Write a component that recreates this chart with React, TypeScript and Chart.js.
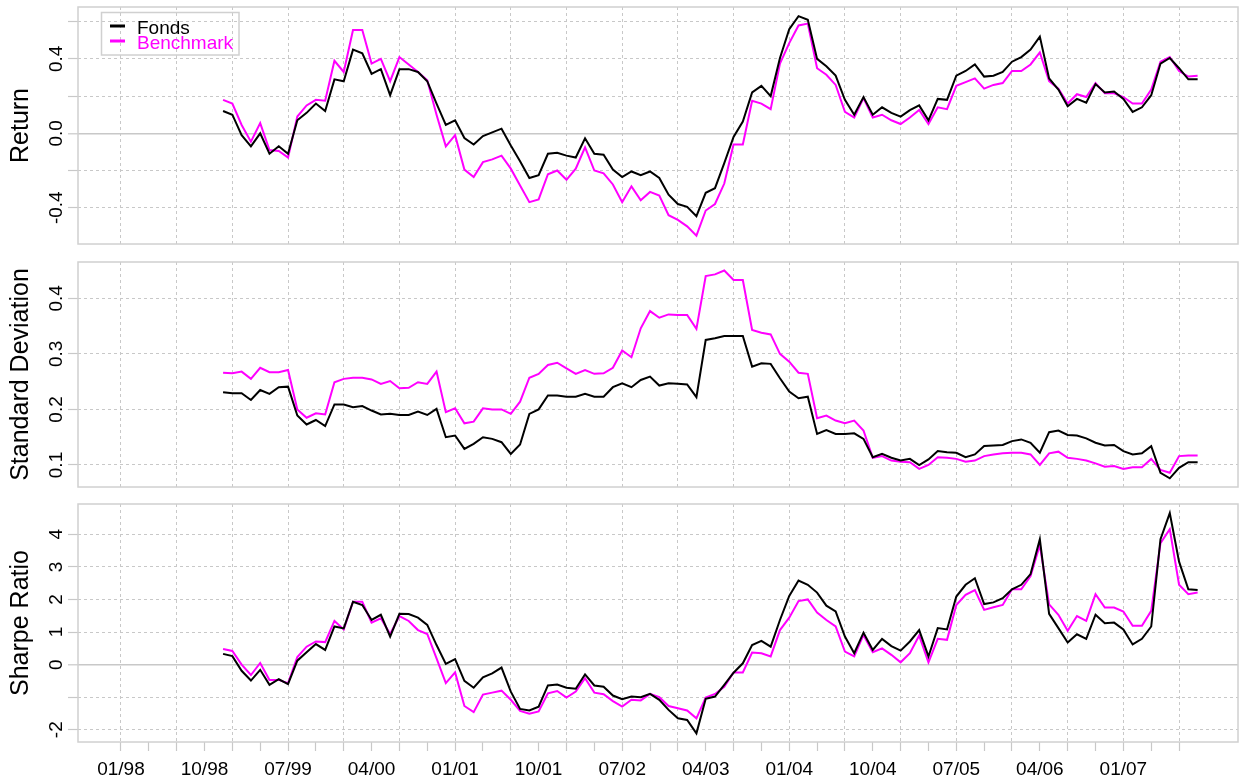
import React, { useEffect, useRef } from "react";
import { Chart, registerables } from "chart.js";

Chart.register(...registerables);

// Months are counted from January 1998 (= 0). Data start in December 1998.
const FIRST_MONTH = 11;

const xTickMonths = [0, 3, 6, 9, 12, 15, 18, 21, 24, 27, 30, 33, 36, 39, 42, 45, 48, 51, 54, 57, 60, 63, 66, 69, 72, 75, 78, 81, 84, 87, 90, 93, 96, 99, 102, 105, 108, 111, 114];
const xLabelMonths = [0, 9, 18, 27, 36, 45, 54, 63, 72, 81, 90, 99, 108];
const xTickLabels = ["01/98", "10/98", "07/99", "04/00", "01/01", "10/01", "07/02", "04/03", "01/04", "10/04", "07/05", "04/06", "01/07"];

const returnFonds = [
  0.12, 0.10, -0.01, -0.07, 0.00, -0.11, -0.07, -0.11, 0.07, 0.11, 0.16, 0.12,
  0.29, 0.28, 0.45, 0.43, 0.32, 0.345, 0.205, 0.345, 0.345, 0.33, 0.28, 0.16,
  0.045, 0.07, -0.025, -0.06, -0.015, 0.005, 0.025, -0.065, -0.15, -0.24, -0.225, -0.11,
  -0.105, -0.12, -0.13, -0.027, -0.11, -0.115, -0.195, -0.235, -0.205, -0.225, -0.205, -0.24,
  -0.33, -0.38, -0.395, -0.445, -0.32, -0.295, -0.16, -0.02, 0.063, 0.22, 0.255, 0.20,
  0.405, 0.56, 0.63, 0.61, 0.40, 0.36, 0.31, 0.18, 0.10, 0.195, 0.10, 0.14,
  0.11, 0.09, 0.125, 0.15, 0.07, 0.185, 0.18, 0.31, 0.335, 0.37, 0.305, 0.31,
  0.33, 0.385, 0.41, 0.45, 0.52, 0.295, 0.235, 0.145, 0.185, 0.165, 0.265, 0.22,
  0.225, 0.185, 0.115, 0.14, 0.205, 0.375, 0.405, 0.35, 0.29, 0.29,
];
const returnBench = [
  0.18, 0.16, 0.045, -0.045, 0.055, -0.09, -0.095, -0.13, 0.09, 0.15, 0.18, 0.175,
  0.39, 0.33, 0.555, 0.555, 0.375, 0.40, 0.28, 0.41, 0.37, 0.33, 0.285, 0.10,
  -0.07, -0.01, -0.195, -0.235, -0.155, -0.14, -0.12, -0.19, -0.28, -0.37, -0.355, -0.22,
  -0.20, -0.25, -0.19, -0.075, -0.20, -0.215, -0.275, -0.37, -0.285, -0.36, -0.315, -0.335,
  -0.44, -0.465, -0.50, -0.55, -0.415, -0.38, -0.27, -0.06, -0.06, 0.175, 0.16, 0.13,
  0.375, 0.485, 0.58, 0.59, 0.35, 0.315, 0.26, 0.115, 0.085, 0.19, 0.085, 0.10,
  0.07, 0.05, 0.085, 0.125, 0.05, 0.14, 0.13, 0.255, 0.275, 0.295, 0.24, 0.26,
  0.27, 0.335, 0.335, 0.37, 0.435, 0.28, 0.24, 0.16, 0.21, 0.195, 0.27, 0.215,
  0.215, 0.195, 0.16, 0.16, 0.235, 0.385, 0.41, 0.335, 0.305, 0.31,
];

const sdFonds = [
  0.231, 0.229, 0.229, 0.217, 0.235, 0.228, 0.24, 0.241, 0.189, 0.173, 0.181, 0.17,
  0.209, 0.209, 0.204, 0.206, 0.198, 0.191, 0.192, 0.19, 0.19, 0.196, 0.19, 0.201,
  0.15, 0.153, 0.129, 0.138, 0.15, 0.147, 0.141, 0.12, 0.137, 0.192, 0.2, 0.225,
  0.225, 0.223, 0.223, 0.228, 0.223, 0.223, 0.24, 0.247, 0.24, 0.253, 0.259, 0.243,
  0.247, 0.246, 0.245, 0.222, 0.325, 0.328, 0.332, 0.332, 0.332, 0.277, 0.283, 0.282,
  0.256, 0.232, 0.22, 0.223, 0.156, 0.163, 0.156, 0.156, 0.157, 0.147, 0.114, 0.12,
  0.113, 0.108, 0.111, 0.1, 0.11, 0.125, 0.123, 0.122, 0.114, 0.119, 0.134, 0.135,
  0.136, 0.143, 0.146, 0.14, 0.122, 0.159, 0.162, 0.154, 0.153, 0.148, 0.14, 0.135,
  0.136, 0.125, 0.119, 0.121, 0.134, 0.086, 0.076, 0.095, 0.105, 0.105,
];
const sdBench = [
  0.266, 0.265, 0.268, 0.255, 0.275, 0.267, 0.267, 0.271, 0.2, 0.185, 0.193, 0.191,
  0.249, 0.255, 0.257, 0.257, 0.254, 0.246, 0.251, 0.238, 0.239, 0.249, 0.246, 0.268,
  0.195, 0.202, 0.175, 0.178, 0.202, 0.2, 0.2, 0.192, 0.214, 0.257, 0.264, 0.28,
  0.284, 0.274, 0.264, 0.271, 0.264, 0.265, 0.275, 0.306, 0.294, 0.346, 0.377, 0.365,
  0.371, 0.37, 0.37, 0.345, 0.44, 0.443, 0.45, 0.433, 0.433, 0.343, 0.338, 0.335,
  0.3, 0.286, 0.266, 0.264, 0.184, 0.189, 0.18, 0.175, 0.18, 0.162, 0.113, 0.116,
  0.108, 0.106, 0.105, 0.093, 0.1, 0.114, 0.113, 0.111, 0.106, 0.108, 0.116, 0.119,
  0.121, 0.122, 0.122, 0.119, 0.1, 0.121, 0.124, 0.113, 0.111, 0.108, 0.103, 0.097,
  0.098, 0.093, 0.096, 0.096, 0.111, 0.091, 0.086, 0.116, 0.117, 0.117,
];

const sharpeFonds = [
  0.33, 0.26, -0.19, -0.49, -0.16, -0.62, -0.45, -0.6, 0.12, 0.38, 0.63, 0.45,
  1.17, 1.11, 1.93, 1.83, 1.37, 1.53, 0.86, 1.56, 1.55, 1.44, 1.22, 0.6,
  0.02, 0.17, -0.5, -0.71, -0.39, -0.27, -0.09, -0.83, -1.36, -1.41, -1.29, -0.64,
  -0.61, -0.71, -0.74, -0.3, -0.64, -0.68, -0.95, -1.06, -0.98, -1.0, -0.9, -1.08,
  -1.39, -1.65, -1.7, -2.11, -1.05, -0.98, -0.62, -0.25, 0.04, 0.6, 0.73, 0.55,
  1.37, 2.11, 2.58, 2.45, 2.21, 1.81, 1.63, 0.86, 0.35, 0.98, 0.45, 0.79,
  0.57, 0.43, 0.71, 1.06, 0.25, 1.12, 1.08, 2.09, 2.45, 2.65, 1.86, 1.91,
  2.04, 2.31, 2.45, 2.78, 3.85, 1.56, 1.12, 0.68, 0.93, 0.79, 1.53, 1.27,
  1.29, 1.08, 0.62, 0.79, 1.17, 3.85, 4.65, 3.16, 2.31, 2.29,
];
const sharpeBench = [
  0.48, 0.42, 0.0, -0.32, 0.05, -0.47, -0.47, -0.57, 0.23, 0.55, 0.71, 0.69,
  1.34, 1.08, 1.93, 1.93, 1.29, 1.42, 0.94, 1.49, 1.34, 1.06, 0.94, 0.19,
  -0.57, -0.24, -1.27, -1.46, -0.92, -0.86, -0.8, -1.08, -1.42, -1.51, -1.44, -0.88,
  -0.81, -1.01, -0.83, -0.42, -0.86, -0.91, -1.12, -1.29, -1.08, -1.1, -0.9, -1.0,
  -1.27, -1.34, -1.41, -1.65, -1.01, -0.9, -0.68, -0.24, -0.24, 0.37, 0.35, 0.25,
  1.06, 1.44, 1.95, 2.0, 1.6, 1.37, 1.17, 0.4, 0.25, 0.91, 0.38, 0.5,
  0.3, 0.07, 0.35, 0.89, 0.07, 0.79, 0.76, 1.83, 2.14, 2.29, 1.68, 1.76,
  1.83, 2.31, 2.31, 2.72, 3.67, 1.85, 1.53, 1.04, 1.49, 1.34, 2.16, 1.75,
  1.75, 1.63, 1.19, 1.19, 1.65, 3.73, 4.16, 2.45, 2.16, 2.21,
];

const returnGrid = [-0.4, -0.2, 0, 0.2, 0.4, 0.6];
const returnLabels = [
  { v: -0.4, t: "-0.4" },
  { v: 0, t: "0.0" },
  { v: 0.4, t: "0.4" },
];
const sdGrid = [0.1, 0.2, 0.3, 0.4];
const sdLabels = [
  { v: 0.1, t: "0.1" },
  { v: 0.2, t: "0.2" },
  { v: 0.3, t: "0.3" },
  { v: 0.4, t: "0.4" },
];
const sharpeGrid = [-2, -1, 0, 1, 2, 3, 4];
const sharpeLabels = [
  { v: -2, t: "-2" },
  { v: 0, t: "0" },
  { v: 1, t: "1" },
  { v: 2, t: "2" },
  { v: 3, t: "3" },
  { v: 4, t: "4" },
];

const W = 1240;
const X_MIN = -4.63;
const X_MAX = 120.35;
const GRID = "#c8c8c8";
const BOX = "#d0d0d0";
const FONT = '"Liberation Sans", Arial, Helvetica, sans-serif';
const FONDS_COLOR = "#000000";
const BENCH_COLOR = "#ff00ff";

type Label = { v: number; t: string };
type PanelSpec = {
  title: string;
  fonds: number[];
  bench: number[];
  yMin: number;
  yMax: number;
  yGrid: number[];
  yLabels: Label[];
  canvasTop: number;
  canvasHeight: number;
  areaTop: number;
  areaBottom: number;
  showX: boolean;
  legend: boolean;
  zero: boolean;
};

const panels: PanelSpec[] = [
  {
    title: "Return", fonds: returnFonds, bench: returnBench,
    yMin: -0.595, yMax: 0.679, yGrid: returnGrid, yLabels: returnLabels,
    canvasTop: 0, canvasHeight: 253, areaTop: 7, areaBottom: 244,
    showX: false, legend: true, zero: true,
  },
  {
    title: "Standard Deviation", fonds: sdFonds, bench: sdBench,
    yMin: 0.0604, yMax: 0.4653, yGrid: sdGrid, yLabels: sdLabels,
    canvasTop: 253, canvasHeight: 243, areaTop: 262, areaBottom: 487,
    showX: false, legend: false, zero: false,
  },
  {
    title: "Sharpe Ratio", fonds: sharpeFonds, bench: sharpeBench,
    yMin: -2.376, yMax: 4.93, yGrid: sharpeGrid, yLabels: sharpeLabels,
    canvasTop: 496, canvasHeight: 285, areaTop: 504, areaBottom: 742,
    showX: true, legend: false, zero: true,
  },
];

function toPoints(values: number[]) {
  return values.map((v, i) => ({ x: FIRST_MONTH + i, y: v }));
}

function decorPlugin(spec: PanelSpec) {
  return {
    id: "decor",
    afterDraw(chart: any) {
      const ctx: CanvasRenderingContext2D = chart.ctx;
      const a = chart.chartArea;
      const ys = chart.scales.y;
      const xs = chart.scales.x;
      ctx.save();
      // panel box
      ctx.strokeStyle = BOX;
      ctx.lineWidth = 1.5;
      ctx.strokeRect(a.left, a.top, a.right - a.left, a.bottom - a.top);

      ctx.fillStyle = "#000";
      ctx.textAlign = "center";
      ctx.textBaseline = "alphabetic";
      // y tick labels (rotated)
      ctx.font = `19px ${FONT}`;
      spec.yLabels.forEach((l) => {
        const y = ys.getPixelForValue(l.v);
        ctx.save();
        ctx.translate(62, y);
        ctx.rotate(-Math.PI / 2);
        ctx.fillText(l.t, 0, 0);
        ctx.restore();
      });
      // axis title
      ctx.font = `25px ${FONT}`;
      ctx.save();
      ctx.translate(28, (a.top + a.bottom) / 2);
      ctx.rotate(-Math.PI / 2);
      ctx.fillText(spec.title, 0, 0);
      ctx.restore();
      // x labels
      if (spec.showX) {
        ctx.font = `19px ${FONT}`;
        xLabelMonths.forEach((m, i) => {
          ctx.fillText(xTickLabels[i], xs.getPixelForValue(m), 775 - spec.canvasTop);
        });
      }
      // legend
      if (spec.legend) {
        ctx.strokeStyle = BOX;
        ctx.lineWidth = 1.5;
        ctx.strokeRect(101.5, 12.5, 137.5, 42.5);
        const ds = chart.data.datasets;
        const rows = [26, 41];
        ctx.font = `19px ${FONT}`;
        ctx.textAlign = "left";
        ds.forEach((d: any, i: number) => {
          ctx.strokeStyle = d.borderColor;
          ctx.lineWidth = 3;
          ctx.beginPath();
          ctx.moveTo(110, rows[i]);
          ctx.lineTo(125, rows[i]);
          ctx.stroke();
          ctx.fillStyle = d.borderColor;
          ctx.fillText(d.label, 137, rows[i] + 7.5);
        });
      }
      ctx.restore();
    },
  };
}

function Panel({ spec }: { spec: PanelSpec }) {
  const ref = useRef<HTMLCanvasElement | null>(null);
  useEffect(() => {
    if (!ref.current) return;
    const isZero = (c: any) => spec.zero && c.tick && Math.abs(c.tick.value) < 1e-9;
    const chart = new Chart(ref.current, {
      type: "line",
      data: {
        datasets: [
          {
            label: "Fonds",
            data: toPoints(spec.fonds),
            borderColor: FONDS_COLOR,
            backgroundColor: FONDS_COLOR,
            borderWidth: 2,
            pointRadius: 0,
            tension: 0,
            fill: false,
          },
          {
            label: "Benchmark",
            data: toPoints(spec.bench),
            borderColor: BENCH_COLOR,
            backgroundColor: BENCH_COLOR,
            borderWidth: 2,
            pointRadius: 0,
            tension: 0,
            fill: false,
          },
        ],
      },
      options: {
        responsive: false,
        animation: false,
        devicePixelRatio: 1,
        events: [],
        layout: {
          padding: {
            left: 0,
            right: 2,
            top: spec.areaTop - spec.canvasTop,
            bottom: spec.showX ? 0 : spec.canvasTop + spec.canvasHeight - spec.areaBottom,
          },
        },
        plugins: {
          legend: { display: false },
          tooltip: { enabled: false },
        },
        scales: {
          x: {
            type: "linear",
            min: X_MIN,
            max: X_MAX,
            afterBuildTicks: (s: any) => {
              s.ticks = xTickMonths.map((v) => ({ value: v }));
            },
            afterFit: (s: any) => {
              s.height = spec.showX ? spec.canvasTop + spec.canvasHeight - spec.areaBottom : 0;
            },
            ticks: { display: false },
            grid: {
              color: (c: any) => (c.tick && c.tick.value % 6 === 0 ? GRID : "rgba(0,0,0,0)"),
              lineWidth: 1,
              drawTicks: spec.showX,
              tickLength: 9,
              tickColor: GRID,
              tickWidth: 1.2,
            },
            border: { display: false, dash: [3, 3] },
          },
          y: {
            type: "linear",
            min: spec.yMin,
            max: spec.yMax,
            afterBuildTicks: (s: any) => {
              s.ticks = spec.yGrid.map((v) => ({ value: v }));
            },
            afterFit: (s: any) => {
              s.width = 78;
            },
            ticks: { display: false },
            grid: {
              color: GRID,
              lineWidth: (c: any) => (isZero(c) ? 1.6 : 1),
              drawTicks: true,
              tickLength: 10,
              tickColor: GRID,
              tickWidth: 1.2,
            },
            border: {
              display: false,
              dash: (c: any) => (isZero(c) ? [] : [3, 3]),
            },
          },
        },
      },
      plugins: [decorPlugin(spec)],
    } as any);
    return () => chart.destroy();
  }, [spec]);
  return (
    <canvas
      ref={ref}
      width={W}
      height={spec.canvasHeight}
      style={{ position: "absolute", left: 0, top: spec.canvasTop, width: W, height: spec.canvasHeight }}
    />
  );
}

export default function App() {
  return (
    <div style={{ position: "absolute", left: 0, top: 0, width: W, height: 781, background: "#fff" }}>
      {panels.map((p) => (
        <Panel key={p.title} spec={p} />
      ))}
    </div>
  );
}
